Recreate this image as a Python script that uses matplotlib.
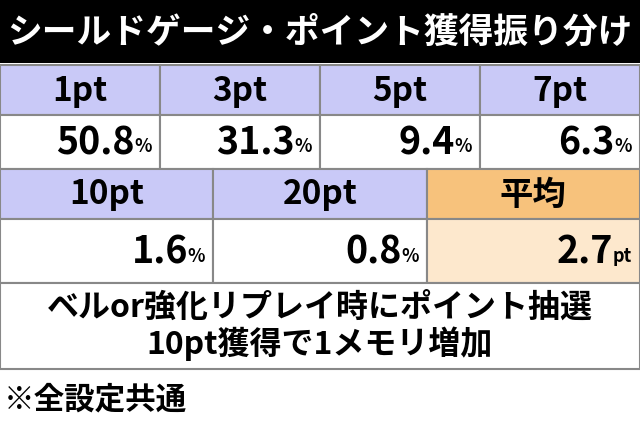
import matplotlib.pyplot as plt
from matplotlib.patches import Rectangle

plt.rcParams['font.family'] = ['Noto Sans CJK JP', 'DejaVu Sans']

title = 'シールドゲージ・ポイント獲得振り分け'
row1_labels = ['1pt', '3pt', '5pt', '7pt']
row1_values = ['50.8', '31.3', '9.4', '6.3']
row2_labels = ['10pt', '20pt', '平均']
row2_values = ['1.6', '0.8', '2.7']
row2_units = ['%', '%', 'pt']
note = 'ベルor強化リプレイ時にポイント抽選\n10pt獲得で1メモリ増加'
footer = '※全設定共通'

head_c = '#c9c9f7'
avg_head_c = '#f7c27c'
avg_val_c = '#fde8cd'
edge = '#888888'

fig = plt.figure(figsize=(6.4, 4.27), dpi=100)
ax = fig.add_axes([0, 0, 1, 1])
ax.set_xlim(0, 640)
ax.set_ylim(427, 0)
ax.axis('off')


def cell(x, y, w, h, fc):
    ax.add_patch(Rectangle((x, y), w, h, facecolor=fc, edgecolor=edge, lw=1.5))


def value(xr, yc, num, unit):
    ax.text(xr - 8, yc + 4, unit, ha='right', va='center', fontsize=13, weight='bold')
    off = 17 if unit == '%' else 19
    ax.text(xr - 8 - off, yc, num, ha='right', va='center', fontsize=27, weight='bold')


# title
ax.add_patch(Rectangle((0, 0), 640, 64, facecolor='black'))
ax.text(320, 32, title, ha='center', va='center', color='white', fontsize=25, weight='bold')

w1 = 160
for i, (lab, val) in enumerate(zip(row1_labels, row1_values)):
    x = i * w1
    cell(x, 66, w1, 50, head_c)
    ax.text(x + w1 / 2, 91, lab, ha='center', va='center', fontsize=24, weight='bold')
    cell(x, 116, w1, 54, 'white')
    value(x + w1, 143, val, '%')

w2 = 640 / 3
for i, (lab, val, u) in enumerate(zip(row2_labels, row2_values, row2_units)):
    x = i * w2
    avg = lab == '平均'
    cell(x, 170, w2, 50, avg_head_c if avg else head_c)
    ax.text(x + w2 / 2, 195, lab, ha='center', va='center', fontsize=24, weight='bold')
    cell(x, 220, w2, 64, avg_val_c if avg else 'white')
    value(x + w2, 252, val, u)

cell(0, 284, 640, 86, 'white')
ax.text(320, 327, note, ha='center', va='center', fontsize=23, weight='bold', linespacing=1.05)

ax.text(4, 400, footer, ha='left', va='center', fontsize=22, weight='bold')

fig.savefig('out.png', dpi=100)
